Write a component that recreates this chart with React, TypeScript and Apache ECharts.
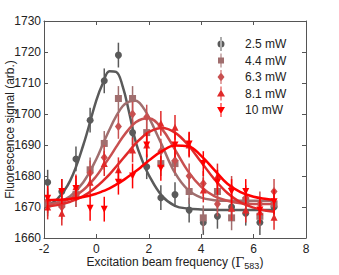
import React, { useEffect, useRef } from "react";
import * as echarts from "echarts";

// Measurement frequencies (units of Γ583)
const xPts = [-1.86, -1.32, -0.78, -0.24, 0.3, 0.84, 1.38, 1.92, 2.46, 3.0, 3.54, 4.08, 4.62, 5.16, 5.7, 6.24, 6.78];

// Measured fluorescence (arb.)
const p25 = [1678, 1675, 1685.5, 1698, 1710.7, 1719, 1694, 1683, 1673, 1674, 1669, 1665, 1667, 1670, 1668, 1665, 1670];
const p44 = [1671, 1671, 1674, 1682, 1690.5, 1705, 1705, 1694, 1684, 1684, 1675, 1666.5, 1675, 1666.5, 1672, 1667, 1671];
const p63 = [1672, 1670, 1674, 1681, 1686, 1696, 1700, 1699, 1688, 1685, 1680, 1677.6, 1671, 1676, 1673, 1671, 1675];
const p81 = [1670, 1668, 1676.5, 1678, 1684, 1682, 1688.4, 1690, 1697, 1695.7, 1690, 1675.5, 1680, 1669.6, 1669, 1668.5, 1666.7];
const p10 = [1672.8, 1675, 1676, 1669.6, 1669.3, 1678, 1680, 1690, 1682.5, 1690, 1690.3, 1684, 1678, 1675, 1675, 1669, 1671.7];

// Error bar half-lengths
const e25 = [4, 4, 4, 4, 4, 4, 4, 4, 4, 4, 4, 4, 4, 4, 4, 4, 4];
const e44 = [4, 4, 4, 4, 4, 4, 4, 4, 4, 4, 4, 4, 4, 4, 4, 4, 4];
const e63 = [4, 4, 4, 4, 4, 4, 4, 4, 4, 4, 4, 4, 4, 4, 4, 4, 4];
const e81 = [4, 4, 4, 4, 4, 4, 4, 4, 4, 4, 4, 4, 4, 4, 4, 4, 4];
const e10 = [4, 4, 4, 4, 4, 4, 4, 4, 4, 4, 4, 4, 4, 4, 4, 4, 4];

// Fitted curves
const fitX = [-1.9, -1.5, -1, -0.5, 0, 0.25, 0.5, 0.75, 1, 1.25, 1.5, 1.75, 2, 2.5, 3, 3.5, 4, 4.5, 5, 5.5, 6, 6.5, 6.8];
const f25 = [1670.5, 1672.5, 1678.5, 1690, 1704.5, 1710, 1713.8, 1713.6, 1709, 1700.5, 1691, 1685, 1680.3, 1673.6, 1670.4, 1669.5, 1669.2, 1669.1, 1669, 1669, 1669, 1669, 1669];
const f44 = [1670.8, 1671.5, 1673.5, 1678, 1685.5, 1690.3, 1695, 1699.2, 1702.5, 1704, 1704.3, 1702.5, 1699, 1690, 1681, 1675.5, 1673, 1672.2, 1672, 1672, 1672, 1672, 1672];
const f63 = [1670.7, 1671.3, 1672.7, 1675.5, 1680, 1683, 1686, 1689.3, 1692.5, 1695.2, 1697.3, 1698.4, 1698.6, 1695.2, 1688.5, 1681.5, 1676.5, 1673.5, 1672, 1671.2, 1671, 1671, 1671];
const f81 = [1670.2, 1670.6, 1671.7, 1673.5, 1676.5, 1678.4, 1680.5, 1683, 1685.5, 1688, 1690.5, 1692.5, 1694.2, 1695.5, 1694, 1690, 1684.5, 1679, 1674.5, 1671.5, 1669.8, 1668.8, 1668.5];
const f10 = [1672.2, 1672.3, 1672.6, 1673.2, 1674.3, 1675.1, 1676, 1677.2, 1678.5, 1680, 1681.5, 1683.2, 1685, 1688, 1689.8, 1689.6, 1686.5, 1682, 1677.5, 1674.8, 1673.3, 1672.6, 1672.3];

const names = ["2.5 mW", "4.4 mW", "6.3 mW", "8.1 mW", "10 mW"];
const colors = ["#5a5a5a", "#a06e6e", "#c85050", "#e02a2a", "#ff0000"];
const xTicks = [-2, 0, 2, 4, 6, 8];
const yTicks = [1660, 1670, 1680, 1690, 1700, 1710, 1720, 1730];

const FONT = "Liberation Sans, Arial, sans-serif";

export default function App() {
  const ref = useRef<HTMLDivElement>(null);
  useEffect(() => {
    if (!ref.current) return;
    const chart = echarts.init(ref.current, null, { renderer: "svg" });
    const pts = [p25, p44, p63, p81, p10];
    const errs = [e25, e44, e63, e81, e10];
    const fits = [f25, f44, f63, f81, f10];
    const symbols = ["circle", "rect", "diamond", "triangle", "triangle"];
    const rot = [0, 0, 0, 0, 180];
    const bar = "M3.5,0h1v14h-1z ";
    const icons = [
      "path://" + bar + "M0.5,7a3.5,3.5 0 1,0 7,0a3.5,3.5 0 1,0 -7,0z",
      "path://" + bar + "M1,4h6v6h-6z",
      "path://" + bar + "M4,2.5L7.5,7L4,11.5L0.5,7z",
      "path://" + bar + "M4,3L8,10H0z",
      "path://" + bar + "M0,4H8L4,11z",
    ];
    const series: any[] = [];
    names.forEach((name, i) => {
      const c = colors[i];
      series.push({
        type: "line",
        name: name + " fit",
        data: fitX.map((x, j) => [x, fits[i][j]]),
        showSymbol: false,
        smooth: 0.4,
        lineStyle: { color: c, width: 2.5 },
        itemStyle: { color: c },
        z: 2 + i,
        silent: true,
      });
      series.push({
        type: "custom",
        name: name + " err",
        data: xPts.map((x, j) => [x, pts[i][j], errs[i][j]]),
        renderItem: (params: any, api: any) => {
          const x = api.value(0);
          const y = api.value(1);
          const e = api.value(2);
          const a = api.coord([x, y - e]);
          const b = api.coord([x, y + e]);
          return {
            type: "line",
            shape: { x1: a[0], y1: a[1], x2: b[0], y2: b[1] },
            style: { stroke: c, lineWidth: 1.5 },
          };
        },
        z: 2 + i,
        silent: true,
      });
      series.push({
        type: "scatter",
        name,
        data: xPts.map((x, j) => [x, pts[i][j]]),
        symbol: symbols[i],
        symbolRotate: rot[i],
        symbolSize: i === 2 ? [7, 9] : 7,
        itemStyle: { color: c, opacity: 1 },
        z: 2 + i,
      });
    });

    const axisLine = { show: true, onZero: false, lineStyle: { color: "#555", width: 1 } };
    const tick = { show: true, inside: true, length: 4, lineStyle: { color: "#555" } };
    chart.setOption({
      animation: false,
      backgroundColor: "#fff",
      grid: { left: 44, right: 33, top: 21, bottom: 37, containLabel: false, outerBoundsMode: "none" },
      legend: {
        left: 212,
        top: 32,
        orient: "vertical",
        itemWidth: 38,
        itemHeight: 14,
        itemGap: 2.5,
        selectedMode: false,
        textStyle: { fontSize: 12, color: "#222", fontFamily: FONT },
        data: names.map((n, i) => ({ name: n, icon: icons[i], itemStyle: { color: colors[i] } })),
      },
      xAxis: [
        {
          type: "value",
          min: xTicks[0],
          max: xTicks[xTicks.length - 1],
          interval: 2,
          position: "bottom",
          axisLine,
          axisTick: tick,
          splitLine: { show: false },
          axisLabel: { color: "#222", fontSize: 12, fontFamily: FONT, margin: 5 },
          name: "Excitation beam frequency ({g|Γ}{s|583})",
          nameLocation: "middle",
          nameGap: 16,
          nameMoveOverlap: false,
          nameTextStyle: {
            color: "#222",
            fontSize: 12,
            fontFamily: FONT,
            rich: {
              g: { fontSize: 13, fontFamily: "DejaVu Serif", color: "#222" },
              s: { fontSize: 9, fontFamily: FONT, color: "#222", padding: [7, 0, 0, 0] },
            },
          },
        },
        {
          type: "value",
          min: xTicks[0],
          max: xTicks[xTicks.length - 1],
          interval: 2,
          position: "top",
          axisLine,
          axisTick: tick,
          splitLine: { show: false },
          axisLabel: { show: false },
        },
      ],
      yAxis: [
        {
          type: "value",
          min: yTicks[0],
          max: yTicks[yTicks.length - 1],
          interval: 10,
          position: "left",
          axisLine,
          axisTick: tick,
          splitLine: { show: false },
          axisLabel: { color: "#222", fontSize: 12, fontFamily: FONT, margin: 3, formatter: (v: number) => String(v) },
          name: "Fluorescence signal (arb.)",
          nameLocation: "middle",
          nameGap: 28,
          nameMoveOverlap: false,
          nameTextStyle: { color: "#222", fontSize: 12, fontFamily: FONT },
        },
        {
          type: "value",
          min: yTicks[0],
          max: yTicks[yTicks.length - 1],
          interval: 10,
          position: "right",
          axisLine,
          axisTick: tick,
          splitLine: { show: false },
          axisLabel: { show: false },
        },
      ],
      series,
    });
    return () => chart.dispose();
  }, []);
  return <div ref={ref} style={{ position: "absolute", left: 0, top: 0, width: 339, height: 275 }} />;
}
